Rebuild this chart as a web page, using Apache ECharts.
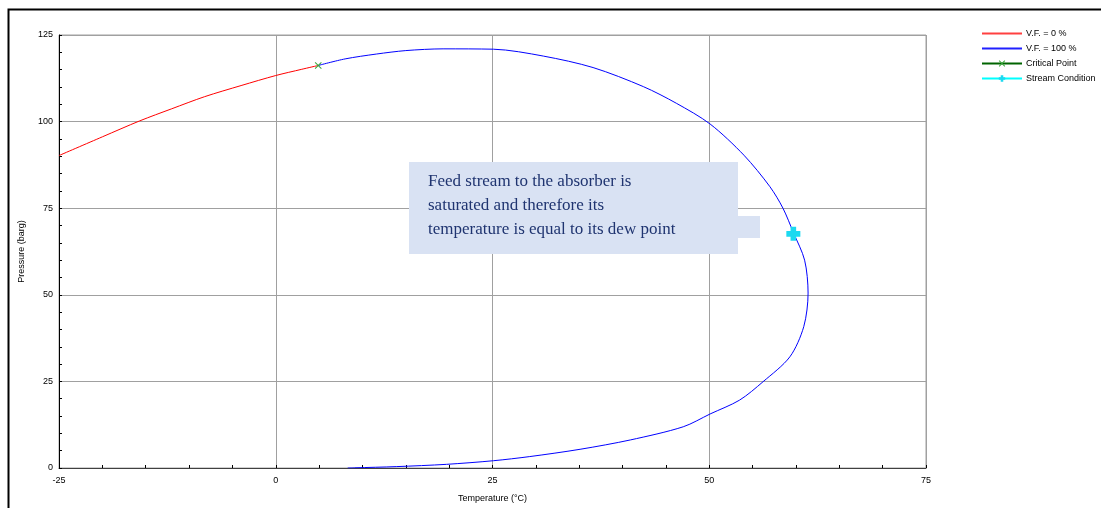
<!DOCTYPE html>
<html>
<head>
<meta charset="utf-8">
<script src="https://cdn.jsdelivr.net/npm/echarts@6/dist/echarts.min.js"></script>
<style>
html,body{margin:0;padding:0;background:#fff;}
#chart{width:1101px;height:508px;}
</style>
</head>
<body>
<div id="chart"></div>
<script>
// ---- data ----
const vf0Temp = [-25, -20, -15.7, -12, -8.2, -4, 0, 3, 4.9];
const vf0Pres = [90.2, 95.6, 100.2, 103.7, 107.2, 110.4, 113.3, 115.1, 116.2];

const vf100Temp = [4.9, 8, 11.6, 15, 19.3, 25.1, 30.9, 36.6, 42.4, 46.2, 50.1, 54, 57.0, 58.5, 59.7, 61.0, 61.4, 60.9, 59.3, 56.2, 53.5, 50.1, 47.0, 40.9, 35.1, 29.3, 25.1, 19.7, 13.9, 9.1, 8.3];
const vf100Pres = [116.2, 118.1, 119.5, 120.5, 121.0, 120.9, 118.9, 115.6, 110.1, 105.3, 99.3, 90.3, 81.2, 75.0, 68.0, 60.0, 50.5, 40.8, 32.1, 24.9, 19.6, 15.6, 11.9, 8.1, 5.4, 3.3, 2.1, 1.06, 0.4, 0.05, 0];

const criticalTemp = [4.9];
const criticalPres = [116.2];

const streamTemp = [59.7];
const streamPres = [67.6];

const seriesNames = ['V.F. = 0 %', 'V.F. = 100 %', 'Critical Point', 'Stream Condition'];
const xTicks = [-25, 0, 25, 50, 75];
const yTicks = [0, 25, 50, 75, 100, 125];
const annotationLines = [
  'Feed stream to the absorber is',
  'saturated and therefore its',
  'temperature is equal to its dew point'
];

const pair = (xs, ys) => xs.map((x, i) => [x, ys[i]]);
const FONT = '"Liberation Sans", Arial, sans-serif';
const LINE_ICON = 'path://M0,0 H40 V2 H0 Z';

const chart = echarts.init(document.getElementById('chart'));
chart.setOption({
  animation: false,
  backgroundColor: '#ffffff',
  grid: {
    left: 59, right: 175, top: 35, bottom: 40,
    show: true, borderColor: '#a0a0a0', borderWidth: 1, backgroundColor: 'transparent'
  },
  legend: {
    orient: 'vertical',
    left: 976, top: 24,
    itemWidth: 40, itemHeight: 8, itemGap: 6,
    textStyle: { fontSize: 9, fontFamily: FONT, color: '#000', padding: [0, 0, 0, -1] },
    data: [
      { name: seriesNames[0], icon: LINE_ICON, itemStyle: { color: '#ff4040', borderWidth: 0 } },
      { name: seriesNames[1], icon: LINE_ICON, itemStyle: { color: '#2020ff', borderWidth: 0 } },
      { name: seriesNames[2] },
      { name: seriesNames[3] }
    ]
  },
  xAxis: {
    type: 'value', min: xTicks[0], max: xTicks[xTicks.length - 1], interval: 25,
    name: 'Temperature (°C)', nameLocation: 'middle', nameGap: 26,
    nameTextStyle: { fontSize: 9, fontFamily: FONT, color: '#000' },
    axisLine: { show: true, onZero: false, lineStyle: { color: '#404040', width: 1 } },
    axisTick: { show: true, inside: true, length: 3, lineStyle: { color: '#000' } },
    minorTick: { show: true, splitNumber: 5, length: 3, lineStyle: { color: '#000' } },
    axisLabel: { fontSize: 9, fontFamily: FONT, color: '#000', margin: 8 },
    splitLine: { show: true, lineStyle: { color: '#a0a0a0', width: 1 } }
  },
  yAxis: {
    type: 'value', min: yTicks[0], max: yTicks[yTicks.length - 1], interval: 25,
    name: 'Pressure (barg)', nameLocation: 'middle', nameGap: 33, nameRotate: 90,
    nameTextStyle: { fontSize: 9, fontFamily: FONT, color: '#000' },
    axisLine: { show: true, onZero: false, lineStyle: { color: '#000', width: 1 } },
    axisTick: { show: true, inside: true, length: 3, lineStyle: { color: '#000' } },
    minorTick: { show: true, splitNumber: 5, length: 3, lineStyle: { color: '#000' } },
    axisLabel: { fontSize: 9, fontFamily: FONT, color: '#000', margin: 6 },
    splitLine: { show: true, lineStyle: { color: '#a0a0a0', width: 1 } }
  },
  series: [
    {
      name: seriesNames[0], type: 'line', data: pair(vf0Temp, vf0Pres),
      smooth: 0.3, symbol: 'none', color: '#ff0000',
      lineStyle: { color: '#ff0000', width: 1 }, z: 3
    },
    {
      name: seriesNames[1], type: 'line', data: pair(vf100Temp, vf100Pres),
      smooth: 0.3, symbol: 'none', color: '#0000ff',
      lineStyle: { color: '#0000ff', width: 1 }, z: 3
    },
    {
      name: seriesNames[2], type: 'line', data: pair(criticalTemp, criticalPres),
      symbol: 'path://M0,1 L1,0 L5,4 L9,0 L10,1 L6,5 L10,9 L9,10 L5,6 L1,10 L0,9 L4,5 Z',
      symbolSize: 7, showSymbol: true, color: '#2e9a2e',
      itemStyle: { color: '#3aa63a' }, lineStyle: { color: '#006400', width: 1 }, z: 4
    },
    {
      name: seriesNames[3], type: 'line', data: pair(streamTemp, streamPres),
      symbol: 'path://M3,0 H7 V3 H10 V7 H7 V10 H3 V7 H0 V3 H3 Z',
      symbolSize: 14, showSymbol: true, color: '#1cd9f0',
      itemStyle: { color: '#1cd9f0' }, lineStyle: { color: '#00ffff', width: 1 }, z: 5
    }
  ],
  graphic: [
    {
      type: 'rect', left: 6, top: 7, z: 0,
      shape: { width: 1200, height: 600 },
      style: { fill: 'none', stroke: '#000', lineWidth: 2 }
    },
    {
      type: 'rect', left: 409, top: 162, z: 10,
      shape: { width: 329, height: 92 },
      style: { fill: '#d9e2f3' }
    },
    {
      type: 'rect', left: 737, top: 216, z: 10,
      shape: { width: 23, height: 22 },
      style: { fill: '#d9e2f3' }
    },
    {
      type: 'text', left: 428, top: 170, z: 11,
      style: {
        text: annotationLines.join('\n'),
        fontSize: 17, fontFamily: '"Liberation Serif", "Times New Roman", serif',
        fill: '#1f3470', lineHeight: 24
      }
    }
  ]
});
</script>
</body>
</html>
